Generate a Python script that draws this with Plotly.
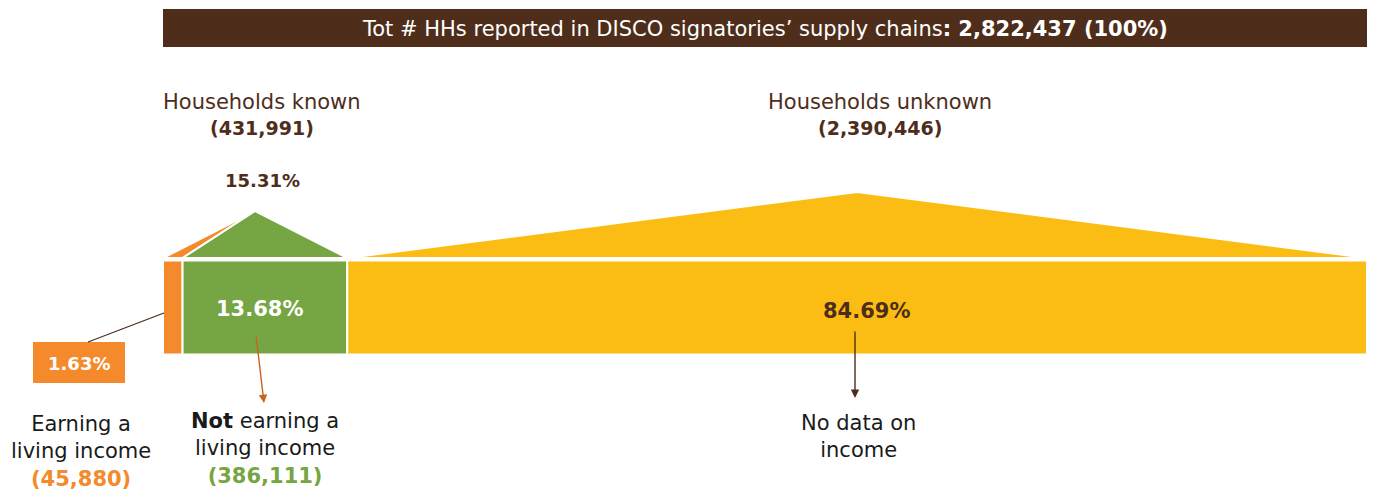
import plotly.graph_objects as go

# Household counts
total_hh = 2822437
known_hh = 431991
unknown_hh = 2390446
earning_hh = 45880
not_earning_hh = 386111

# Shares of the total (%)
pct_known = 15.31
pct_earning = 1.63
pct_not_earning = 13.68
pct_unknown = 84.69

segment_values = [earning_hh, not_earning_hh, unknown_hh]
segment_colors = ["#F58A2C", "#76A543", "#FBBD13"]

BROWN = "#4E2E1B"
INK = "#1A1A1A"
FONT = "DejaVu Sans"
W, H = 1375, 491

# Horizontal scale: households mapped onto 163..1367 px
X0_PX, X1_PX = 163, 1367
k = total_hh / (X1_PX - X0_PX)
x_range = [-X0_PX * k, (W - X0_PX) * k]

def px(x):
    return x / W

def py(y):
    return 1 - y / H

fig = go.Figure()

# Stacked segments of the main bar
starts = [0, earning_hh, earning_hh + not_earning_hh]
for v, b, c in zip(segment_values, starts, segment_colors):
    fig.add_trace(go.Bar(
        x=[v], base=[b], y=[307.5], width=[94], orientation="h",
        marker=dict(color=c, line=dict(color="white", width=2)),
        hoverinfo="skip", showlegend=False,
    ))

# Roof over the known households, split by earning / not earning
ROOF_BASE = 258
apex_known = known_hh / 2
fig.add_trace(go.Scatter(
    x=[0, earning_hh, apex_known, 0], y=[ROOF_BASE, ROOF_BASE, 211, ROOF_BASE],
    fill="toself", fillcolor=segment_colors[0], mode="lines",
    line=dict(color="white", width=2), hoverinfo="skip", showlegend=False,
))
fig.add_trace(go.Scatter(
    x=[earning_hh, known_hh, apex_known, earning_hh], y=[ROOF_BASE, ROOF_BASE, 211, ROOF_BASE],
    fill="toself", fillcolor=segment_colors[1], mode="lines",
    line=dict(color="white", width=2), hoverinfo="skip", showlegend=False,
))
# Roof over the unknown households
apex_unknown = known_hh + unknown_hh / 2
fig.add_trace(go.Scatter(
    x=[known_hh, total_hh, apex_unknown, known_hh], y=[ROOF_BASE, ROOF_BASE, 192, ROOF_BASE],
    fill="toself", fillcolor=segment_colors[2], mode="lines",
    line=dict(color="white", width=2), hoverinfo="skip", showlegend=False,
))

shapes = [
    # Header band
    dict(type="rect", xref="x", yref="y", x0=0, x1=total_hh, y0=9, y1=47,
         fillcolor=BROWN, line=dict(width=0), layer="below"),
    # Box for the earning share
    dict(type="rect", xref="paper", yref="paper", x0=px(33), x1=px(125), y0=py(383), y1=py(342),
         fillcolor=segment_colors[0], line=dict(width=0)),
    # Leader line from box to the orange segment
    dict(type="line", xref="paper", yref="paper", x0=px(88), y0=py(342), x1=px(164), y1=py(313),
         line=dict(color=BROWN, width=1.3)),
]

ann = []

def text(x, y, t, size, color, bold=False, xref="paper", xshift=0):
    ann.append(dict(
        x=x if xref == "x" else px(x), y=py(y), xref=xref, yref="paper",
        text=f"<b>{t}</b>" if bold else t, showarrow=False, xshift=xshift,
        font=dict(family=FONT, size=size, color=color),
        xanchor="center", yanchor="middle",
    ))

# Header text
text(765, 29, f"Tot # HHs reported in DISCO signatories’ supply chains<b>: {total_hh:,} (100%)</b>", 21, "white")

# Group headings
text(262, 102, "Households known", 21, BROWN)
text(262, 128, f"({known_hh:,})", 19, BROWN, bold=True)
text(262, 181, f"{pct_known:.2f}%", 18, BROWN, bold=True)
text(880, 102, "Households unknown", 21, BROWN)
text(880, 128, f"({unknown_hh:,})", 19, BROWN, bold=True)

# Segment values
text(earning_hh + not_earning_hh / 2, 309, f"{pct_not_earning:.2f}%", 21, "white", bold=True, xref="x", xshift=-5)
text(known_hh + unknown_hh / 2, 311, f"{pct_unknown:.2f}%", 21, BROWN, bold=True, xref="x", xshift=9)
text(79, 363, f"{pct_earning:.2f}%", 18, "white", bold=True)

# Category labels below the bar
text(81, 451, f"Earning a<br>living income<br><span style='color:{segment_colors[0]}'><b>({earning_hh:,})</b></span>", 21, INK)
text(265, 448, f"<b>Not</b> earning a<br>living income<br><span style='color:{segment_colors[1]}'><b>({not_earning_hh:,})</b></span>", 21, INK)
text(858, 436, "No data on<br>income", 21, INK)

# Arrows from the values down to the labels
ann.append(dict(x=px(264), y=py(403), xref="paper", yref="paper", ax=-8, ay=-68,
                showarrow=True, arrowhead=2, arrowsize=1.2, arrowwidth=1.4,
                arrowcolor="#C8641E", text=""))
ann.append(dict(x=px(855), y=py(398), xref="paper", yref="paper", ax=0, ay=-68,
                showarrow=True, arrowhead=2, arrowsize=1.2, arrowwidth=1.4,
                arrowcolor=BROWN, text=""))

fig.update_layout(
    width=W, height=H, margin=dict(l=0, r=0, t=0, b=0),
    paper_bgcolor="white", plot_bgcolor="white",
    barmode="overlay", shapes=shapes, annotations=ann,
    xaxis=dict(range=x_range, visible=False, fixedrange=True),
    yaxis=dict(range=[H, 0], visible=False, fixedrange=True),
)

fig.write_html("out.html")
